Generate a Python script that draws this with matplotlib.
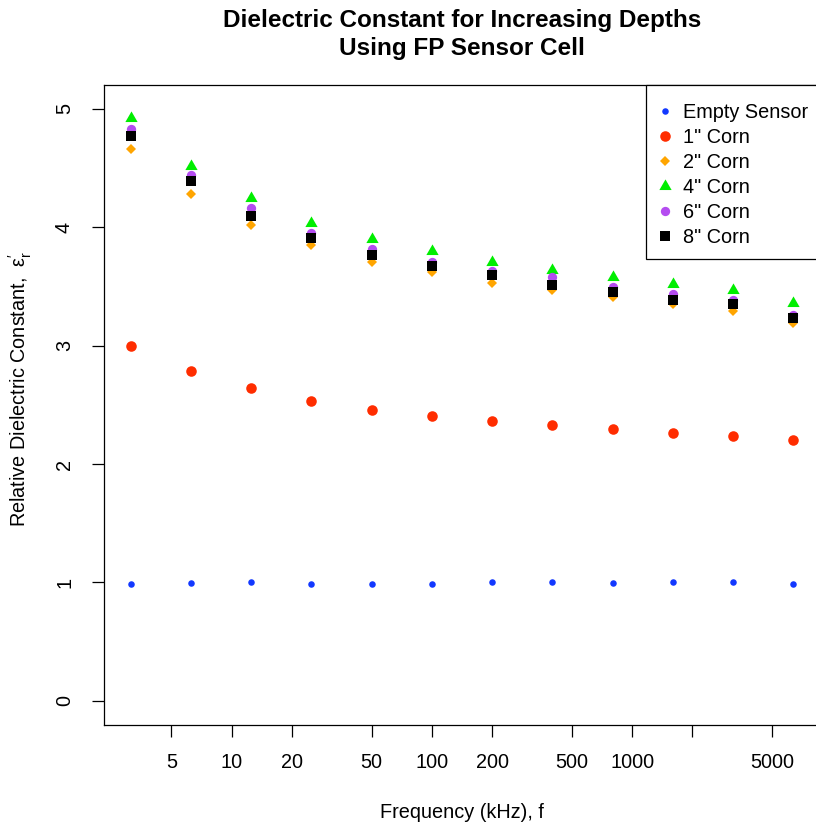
import numpy as np
import matplotlib
matplotlib.use("Agg")
import matplotlib.pyplot as plt
from matplotlib.patches import Rectangle

plt.rcParams['font.family'] = ['Liberation Sans', 'DejaVu Sans']
plt.rcParams['mathtext.fontset'] = 'custom'
plt.rcParams['mathtext.rm'] = 'Liberation Sans'
plt.rcParams['mathtext.it'] = 'Liberation Sans'

# frequencies (kHz), doubling from 3.125 kHz
freq = [3.125, 6.25, 12.5, 25, 50, 100, 200, 400, 800, 1600, 3200, 6400]

empty = [0.99, 0.995, 1.005, 0.99, 0.99, 0.99, 1.0, 1.0, 0.995, 1.0, 1.0, 0.985]
corn1 = [3.00, 2.79, 2.64, 2.53, 2.46, 2.41, 2.36, 2.33, 2.30, 2.26, 2.24, 2.20]
corn2 = [4.66, 4.28, 4.02, 3.85, 3.71, 3.62, 3.53, 3.47, 3.41, 3.35, 3.29, 3.19]
corn4 = [4.92, 4.52, 4.25, 4.04, 3.90, 3.80, 3.71, 3.64, 3.58, 3.52, 3.47, 3.36]
corn6 = [4.83, 4.44, 4.16, 3.95, 3.82, 3.71, 3.63, 3.58, 3.50, 3.44, 3.39, 3.26]
corn8 = [4.77, 4.39, 4.10, 3.91, 3.77, 3.67, 3.60, 3.51, 3.45, 3.39, 3.35, 3.23]

xticks = [5, 10, 20, 50, 100, 200, 500, 1000, 2000, 5000]
xticklabels = ['5', '10', '20', '50', '100', '200', '500', '1000', '', '5000']
yticks = [0, 1, 2, 3, 4, 5]

# equilateral triangle, centred on its centroid
tri = [(0, 1), (0.866, -0.5), (-0.866, -0.5), (0, 1)]

W, H = 816, 826
fig = plt.figure(figsize=(W / 100, H / 100), dpi=100)
# plot region runs past the right edge of the image
x0, x1, y0, y1 = 104, 820, 85.3, 724.5
ax = fig.add_axes([x0 / W, 1 - y1 / H, (x1 - x0) / W, (y1 - y0) / H])

series = [
    (empty, 'Empty Sensor', dict(marker='o', ms=4.7, color='#1238ff')),
    (corn1, '1" Corn', dict(marker='o', ms=7.6, color='#ff2d00')),
    (corn2, '2" Corn', dict(marker='D', ms=4.6, color='#ffa500')),
    (corn4, '4" Corn', dict(marker=tri, ms=10.2, color='#00ee00')),
    (corn6, '6" Corn', dict(marker='o', ms=6.7, color='#b44cf0')),
    (corn8, '8" Corn', dict(marker='s', ms=7.2, color='black')),
]
for vals, lab, st in series:
    ax.plot(freq, vals, linestyle='none', markeredgewidth=0, label=lab, **st)

ax.set_xscale('log')
lo, hi = np.log10(freq[0]), np.log10(freq[-1])
pad = 0.04 * (hi - lo)
ax.set_xlim(10 ** (lo - pad), 10 ** (hi + pad))
ax.set_ylim(-0.2, 5.2)

ax.xaxis.set_minor_locator(matplotlib.ticker.NullLocator())
ax.set_xticks(xticks)
ax.set_xticklabels(xticklabels)
ax.set_yticks(yticks)

ax.tick_params(direction='out', length=8.6, width=0.9, labelsize=14.3, pad=12)
ax.tick_params(axis='y', labelrotation=90, pad=13)
for t in ax.get_yticklabels():
    t.set_va('center')
for s in ax.spines.values():
    s.set_linewidth(0.9)

# legend box (frame drawn separately so the padding can differ per side)
box = Rectangle((646 / W, 1 - 259 / H), (830 - 646) / W, (259 - 85.3) / H,
                transform=fig.transFigure, facecolor='white', edgecolor='black',
                linewidth=0.9, zorder=5, clip_on=False)
ax.add_patch(box)
leg = ax.legend(loc='upper left', bbox_to_anchor=(655 / W, 1 - 103 / H),
                bbox_transform=fig.transFigure, borderaxespad=0, borderpad=0,
                fontsize=14.3, frameon=False, handlelength=1.0,
                handletextpad=0.4, labelspacing=0.3, numpoints=1)
leg.set_zorder(6)

fig.text(462 / W, 1 - 21 / H, 'Dielectric Constant for Increasing Depths',
         ha='center', va='center', fontsize=17.5, fontweight='bold')
fig.text(462 / W, 1 - 48 / H, 'Using FP Sensor Cell',
         ha='center', va='center', fontsize=17.5, fontweight='bold')
fig.text(462 / W, 1 - 813 / H, 'Frequency (kHz), f',
         ha='center', va='center', fontsize=14.3)
fig.text(20 / W, 1 - 389 / H,
         r"Relative Dielectric Constant,  $\mathregular{\varepsilon_r^{\prime}}$",
         ha='center', va='center', rotation=90, fontsize=14.3)

fig.savefig('out.png', dpi=100)
